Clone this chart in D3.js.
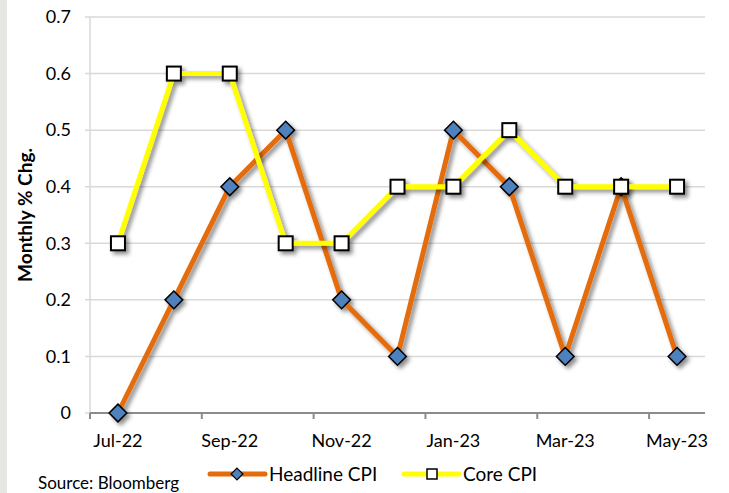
<!DOCTYPE html>
<html>
<head>
<meta charset="utf-8">
<style>
    body { margin: 0; background: #fff; }
    text { font-family: Lato, "Open Sans", sans-serif; fill: #000; }
    .grid line { stroke: #d9d9d9; stroke-width: 1.5; }
    .x-axis path, .x-axis line { stroke: #8c8c8c; stroke-width: 2; }
</style>
</head>
<body>
<div id="target"></div>
<script src="https://cdnjs.cloudflare.com/ajax/libs/d3/7.8.5/d3.min.js"></script>
<script>
    var months = ['Jul-22', 'Aug-22', 'Sep-22', 'Oct-22', 'Nov-22', 'Dec-22',
        'Jan-23', 'Feb-23', 'Mar-23', 'Apr-23', 'May-23'];
    var headline = [0, 0.2, 0.4, 0.5, 0.2, 0.1, 0.5, 0.4, 0.1, 0.4, 0.1];
    var core = [0.3, 0.6, 0.6, 0.3, 0.3, 0.4, 0.4, 0.5, 0.4, 0.4, 0.4];
    var yTicks = [0, 0.1, 0.2, 0.3, 0.4, 0.5, 0.6, 0.7];
    var xLabels = ['Jul-22', 'Sep-22', 'Nov-22', 'Jan-23', 'Mar-23', 'May-23'];

    var W = 729, H = 493;
    // plot box edges (note: "top" is taken by window.top, so prefix them)
    var pLeft = 90, pRight = 705, pTop = 17, pBottom = 413;

    var svg = d3.select('#target').append('svg')
        .attr('width', W).attr('height', H);

    // the thin grey strip on the left edge of the screenshot
    svg.append('rect').attr('x', 0).attr('y', 0).attr('width', 7).attr('height', H)
        .attr('fill', '#e6e6e2');

    var defs = svg.append('defs');
    defs.append('filter').attr('id', 'shadow')
        .attr('x', '-20%').attr('y', '-20%').attr('width', '140%').attr('height', '140%')
        .append('feDropShadow')
        .attr('dx', 3).attr('dy', 3).attr('stdDeviation', 2)
        .attr('flood-color', '#000').attr('flood-opacity', 0.45);

    var x = d3.scaleBand().domain(months).range([pLeft, pRight]);
    var y = d3.scaleLinear().domain([0, 0.7]).range([pBottom, pTop]);
    var cx = function (m) { return x(m) + x.bandwidth() / 2; };

    // horizontal gridlines, sticking out a little on the left as ticks
    svg.append('g').attr('class', 'grid')
        .selectAll('line').data(yTicks.slice(1)).enter().append('line')
        .attr('x1', pLeft - 5).attr('x2', pRight)
        .attr('y1', function (d) { return y(d); })
        .attr('y2', function (d) { return y(d); });
    svg.append('line')
        .attr('x1', pLeft).attr('x2', pLeft).attr('y1', pTop).attr('y2', pBottom)
        .attr('stroke', '#d9d9d9').attr('stroke-width', 1.5);
    svg.append('line')
        .attr('x1', pLeft - 5).attr('x2', pLeft).attr('y1', pBottom).attr('y2', pBottom)
        .attr('stroke', '#d9d9d9').attr('stroke-width', 1.5);

    // y tick labels
    svg.append('g').selectAll('text').data(yTicks).enter().append('text')
        .attr('x', 71)
        .attr('y', function (d) { return y(d); })
        .attr('dy', '0.35em')
        .attr('text-anchor', 'end')
        .style('font-size', '18px')
        .text(function (d) { return d === 0 ? '0' : d.toFixed(1); });

    // x axis: ticks at the start of every second month, labels centred on the month
    var xAxis = svg.append('g').attr('class', 'x-axis');
    xAxis.append('line')
        .attr('x1', pLeft).attr('x2', pRight).attr('y1', pBottom).attr('y2', pBottom);
    xAxis.selectAll('line.tick').data(xLabels).enter().append('line')
        .attr('class', 'tick')
        .attr('x1', function (d) { return x(d); })
        .attr('x2', function (d) { return x(d); })
        .attr('y1', pBottom).attr('y2', pBottom + 6);
    xAxis.selectAll('text').data(xLabels).enter().append('text')
        .attr('x', cx)
        .attr('y', pBottom + 34)
        .attr('text-anchor', 'middle')
        .style('font-size', '18px')
        .text(function (d) { return d; });

    svg.append('text')
        .attr('transform', 'translate(25,' + ((pTop + pBottom) / 2) + ') rotate(-90)')
        .attr('text-anchor', 'middle')
        .attr('dy', '0.35em')
        .style('font-size', '19px').style('font-weight', 'bold')
        .text('Monthly % Chg.');

    var line = d3.line()
        .x(function (d, i) { return cx(months[i]); })
        .y(function (d) { return y(d); });

    var diamond = d3.symbol().type(d3.symbolDiamond2);

    // headline CPI
    var gHead = svg.append('g').attr('filter', 'url(#shadow)');
    gHead.append('path').datum(headline)
        .attr('d', line)
        .attr('fill', 'none').attr('stroke', '#e46c0a').attr('stroke-width', 5)
        .attr('stroke-linejoin', 'round');
    gHead.selectAll('path.pt').data(headline).enter().append('path')
        .attr('class', 'pt')
        .attr('d', diamond.size(200))
        .attr('transform', function (d, i) { return 'translate(' + cx(months[i]) + ',' + y(d) + ')'; })
        .attr('fill', '#4f81bd').attr('stroke', '#000').attr('stroke-width', 1.5);

    // core CPI
    var gCore = svg.append('g').attr('filter', 'url(#shadow)');
    gCore.append('path').datum(core)
        .attr('d', line)
        .attr('fill', 'none').attr('stroke', '#ffff00').attr('stroke-width', 5)
        .attr('stroke-linejoin', 'round');
    gCore.selectAll('rect').data(core).enter().append('rect')
        .attr('x', function (d, i) { return cx(months[i]) - 7; })
        .attr('y', function (d) { return y(d) - 7; })
        .attr('width', 14).attr('height', 14)
        .attr('fill', '#fff').attr('stroke', '#000').attr('stroke-width', 2);

    // legend
    var legY = 474;
    var leg = svg.append('g');
    leg.append('line').attr('x1', 210).attr('x2', 265).attr('y1', legY).attr('y2', legY)
        .attr('stroke', '#e46c0a').attr('stroke-width', 5).attr('stroke-linecap', 'round');
    leg.append('path').attr('d', diamond.size(90))
        .attr('transform', 'translate(237,' + legY + ')')
        .attr('fill', '#4f81bd').attr('stroke', '#000').attr('stroke-width', 1.2);
    leg.append('text').attr('x', 269).attr('y', legY).attr('dy', '0.35em')
        .style('font-size', '19px').text('Headline CPI');
    leg.append('line').attr('x1', 404).attr('x2', 459).attr('y1', legY).attr('y2', legY)
        .attr('stroke', '#ffff00').attr('stroke-width', 5).attr('stroke-linecap', 'round');
    leg.append('rect').attr('x', 427).attr('y', legY - 5).attr('width', 10).attr('height', 10)
        .attr('fill', '#fff').attr('stroke', '#000').attr('stroke-width', 1.5);
    leg.append('text').attr('x', 463).attr('y', legY).attr('dy', '0.35em')
        .style('font-size', '19px').text('Core CPI');

    svg.append('text').attr('x', 38).attr('y', 483).attr('dy', '0.35em')
        .style('font-size', '17px').text('Source: Bloomberg');
</script>
</body>
</html>
